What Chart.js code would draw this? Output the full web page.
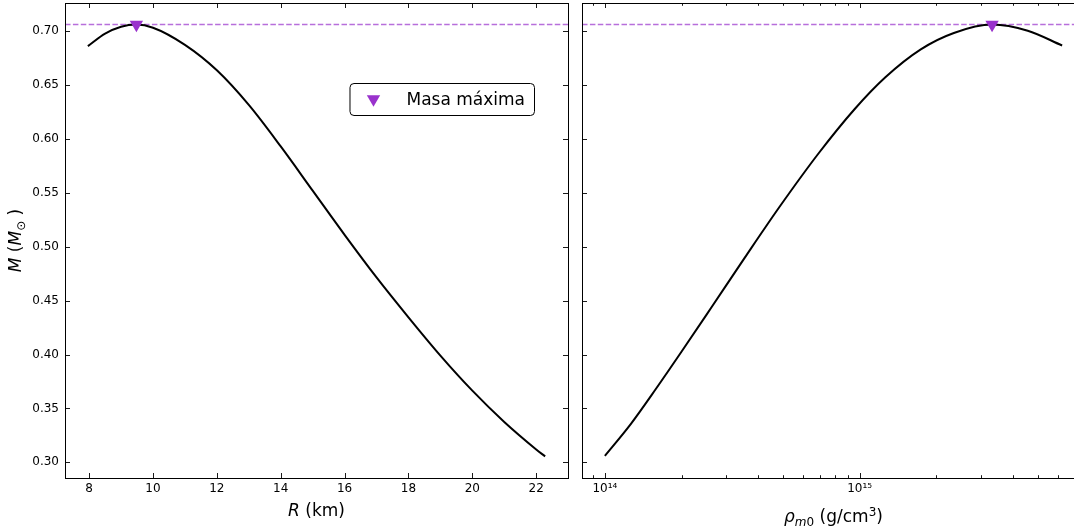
<!DOCTYPE html>
<html lang="es">
<head>
  <meta charset="UTF-8">
  <title>Masa vs radio y densidad central</title>
  <script src="https://cdn.jsdelivr.net/npm/chart.js"></script>
  <style>
    html, body { margin: 0; padding: 0; background: #fff; overflow: hidden; }
    #figure { position: relative; width: 1074px; height: 531px; overflow: hidden; }
    .panel { position: absolute; top: 0; height: 531px; }
    #leftPanel { left: 0; width: 575px; }
    #rightPanel { left: 575px; width: 525px; }
  </style>
</head>
<body>
  <div id="figure">
    <div class="panel" id="leftPanel"><canvas id="radiusChart"></canvas></div>
    <div class="panel" id="rightPanel"><canvas id="densityChart"></canvas></div>
  </div>

  <script>
    // left panel: M vs R
    const radiusKm = [7.96, 8.5, 9.0, 9.48, 10, 11, 12, 13, 14, 15, 16, 17, 18, 19, 20, 21, 22, 22.28];
    const massByRadius = [0.686, 0.6976, 0.704, 0.706, 0.7031, 0.6872, 0.6636, 0.6315, 0.593, 0.552, 0.511, 0.4715, 0.4345, 0.399, 0.3665, 0.3375, 0.312, 0.3055];

    // right panel: M vs central density (g/cm^3)
    const densityRho = [1.0e14, 1.259e14, 1.585e14, 1.995e14, 2.630e14, 3.548e14, 4.898e14, 6.918e14, 9.550e14, 1.259e15, 1.738e15, 2.344e15, 3.311e15, 4.571e15, 6.237e15];
    const massByDensity = [0.306, 0.335, 0.368, 0.4023, 0.4443, 0.4901, 0.5384, 0.5869, 0.6275, 0.6569, 0.6830, 0.6982, 0.706, 0.7003, 0.6866];

    const radiusTicks = [8, 10, 12, 14, 16, 18, 20, 22];
    const massTicks = [0.30, 0.35, 0.40, 0.45, 0.50, 0.55, 0.60, 0.65, 0.70];
    const densityDecades = [1e14, 1e15];
    const legendLabel = "Masa máxima";

    const FONT = "'DejaVu Sans', sans-serif";
    const PURPLE = "#9932cc";
    Chart.defaults.font.family = FONT;
    Chart.defaults.color = "#000";

    // matplotlib-like 5% margins
    function padRange(vals, log) {
      const v = log ? vals.map(Math.log10) : vals;
      const lo = Math.min(...v), hi = Math.max(...v), m = (hi - lo) * 0.05;
      return log ? [Math.pow(10, lo - m), Math.pow(10, hi + m)] : [lo - m, hi + m];
    }
    const [rMin, rMax] = padRange(radiusKm);
    const [mMin, mMax] = padRange(massByRadius.concat(massByDensity));
    const [dMin, dMax] = padRange(densityRho, true);

    const peakR = massByRadius.indexOf(Math.max(...massByRadius));
    const peakD = massByDensity.indexOf(Math.max(...massByDensity));
    const peakMass = Math.max(...massByRadius, ...massByDensity);

    const SUP = "⁰¹²³⁴⁵⁶⁷⁸⁹";
    const sup = n => String(n).split("").map(c => SUP[+c]).join("");
    const isDecade = v => Math.abs(Math.log10(v) - Math.round(Math.log10(v))) < 1e-9;

    const fixBox = size => s => {
      if (s.isHorizontal()) s.height = size; else s.width = size;
      s.paddingTop = s.paddingBottom = s.paddingLeft = s.paddingRight = 0;
    };

    function fontFor(p, size) {
      const sz = (p.sub || p.sup) ? Math.round(size * 0.7) : size;
      return (p.it ? "italic " : "") + sz + "px " + FONT;
    }

    function drawRich(ctx, parts, cx, cy, size, rotate) {
      ctx.save();
      ctx.translate(cx, cy);
      if (rotate) ctx.rotate(-Math.PI / 2);
      const widths = parts.map(p => { ctx.font = fontFor(p, size); return ctx.measureText(p.t).width; });
      let x = -widths.reduce((a, b) => a + b, 0) / 2;
      ctx.fillStyle = "#000";
      ctx.textBaseline = "alphabetic";
      ctx.textAlign = "left";
      parts.forEach((p, i) => {
        ctx.font = fontFor(p, size);
        const dy = p.sub ? size * 0.22 : p.sup ? -size * 0.38 : 0;
        ctx.fillText(p.t, x, size * 0.36 + dy);
        x += widths[i];
      });
      ctx.restore();
    }

    function tri(ctx, x, y, r) {
      ctx.beginPath();
      ctx.moveTo(x, y + r);
      ctx.lineTo(x - r * Math.sqrt(3) / 2, y - r / 2);
      ctx.lineTo(x + r * Math.sqrt(3) / 2, y - r / 2);
      ctx.closePath();
      ctx.fill();
    }

    const axesFrame = {
      id: "axesFrame",
      beforeDatasetsDraw(chart) {
        const { ctx, chartArea: a, scales: { y } } = chart;
        const yp = y.getPixelForValue(peakMass);
        ctx.save();
        ctx.strokeStyle = "rgba(153, 50, 204, 0.7)";
        ctx.lineWidth = 1.5;
        ctx.setLineDash([5.5, 2.4]);
        ctx.beginPath();
        ctx.moveTo(a.left, yp);
        ctx.lineTo(a.right, yp);
        ctx.stroke();
        ctx.restore();
      },
      afterDraw(chart, args, opts) {
        const { ctx, chartArea: a, scales: { x, y } } = chart;
        ctx.save();
        ctx.strokeStyle = "#000";
        ctx.lineWidth = 1;
        ctx.strokeRect(Math.round(a.left) + 0.5, Math.round(a.top) + 0.5, Math.round(a.right - a.left), Math.round(a.bottom - a.top));

        // inward ticks on all four sides
        ctx.lineWidth = 0.9;
        ctx.beginPath();
        x.ticks.forEach(t => {
          const px = Math.round(x.getPixelForValue(t.value)) + 0.5;
          const len = t.major ? 5 : 2.8;
          ctx.moveTo(px, a.bottom); ctx.lineTo(px, a.bottom - len);
          ctx.moveTo(px, a.top); ctx.lineTo(px, a.top + len);
        });
        y.ticks.forEach(t => {
          const py = Math.round(y.getPixelForValue(t.value)) + 0.5;
          ctx.moveTo(a.left, py); ctx.lineTo(a.left + 5, py);
          ctx.moveTo(a.right, py); ctx.lineTo(a.right - 5, py);
        });
        ctx.stroke();

        const cx = (a.left + a.right) / 2;
        if (opts.xTitle) drawRich(ctx, opts.xTitle, cx, opts.xTitleY, 17, false);
        if (opts.yTitle) drawRich(ctx, opts.yTitle, 15, (a.top + a.bottom) / 2, 17, true);

        if (opts.legend) {
          ctx.font = "17px " + FONT;
          const tw = ctx.measureText(legendLabel).width;
          const right = a.right - 34, top = a.top + 80.5, h = 32;
          const left = right - (tw + 57 + 9);
          ctx.beginPath();
          if (ctx.roundRect) ctx.roundRect(left + 0.5, top, right - left, h, 4);
          else ctx.rect(left + 0.5, top, right - left, h);
          ctx.fillStyle = "#fff";
          ctx.fill();
          ctx.strokeStyle = "#000";
          ctx.lineWidth = 1;
          ctx.stroke();
          ctx.fillStyle = PURPLE;
          tri(ctx, left + 24, top + h / 2 - 0.5, 7.7);
          ctx.fillStyle = "#000";
          ctx.textBaseline = "middle";
          ctx.textAlign = "left";
          ctx.fillText(legendLabel, left + 57, top + h / 2 + 1);
        }
        ctx.restore();
      }
    };

    const tickFont = { size: 12 };
    const curveStyle = { borderColor: "#000", borderWidth: 2, pointRadius: 0, cubicInterpolationMode: "monotone", fill: false, order: 1 };
    const markerStyle = { showLine: false, pointStyle: "triangle", rotation: 180, pointRadius: 7.7, pointBackgroundColor: PURPLE, pointBorderColor: PURPLE, pointBorderWidth: 0, order: 0 };

    const yScale = (labels) => ({
      type: "linear", min: mMin, max: mMax,
      afterBuildTicks: s => { s.ticks = massTicks.map(v => ({ value: v, major: true })); },
      afterFit: fixBox(labels ? 65 : 7),
      ticks: { display: labels, padding: 6, font: tickFont, color: "#000", callback: v => v.toFixed(2) },
      grid: { display: false, drawTicks: false },
      border: { display: false }
    });

    new Chart(document.getElementById("radiusChart"), {
      type: "line",
      data: {
        datasets: [
          Object.assign({ label: "M(R)", data: radiusKm.map((r, i) => ({ x: r, y: massByRadius[i] })) }, curveStyle),
          Object.assign({ label: legendLabel, data: [{ x: radiusKm[peakR], y: massByRadius[peakR] }] }, markerStyle)
        ]
      },
      options: {
        responsive: true, maintainAspectRatio: false, animation: false,
        layout: { autoPadding: false, padding: { top: 3, right: 7, left: 0, bottom: 0 } },
        plugins: {
          legend: { display: false }, tooltip: { enabled: false },
          axesFrame: {
            legend: true,
            xTitle: [{ t: "R", it: true }, { t: " (km)" }], xTitleY: 510,
            yTitle: [{ t: "M", it: true }, { t: " (" }, { t: "M", it: true }, { t: "⊙", sub: true }, { t: " )" }]
          }
        },
        scales: {
          x: {
            type: "linear", min: rMin, max: rMax,
            afterBuildTicks: s => { s.ticks = radiusTicks.map(v => ({ value: v, major: true })); },
            afterFit: fixBox(53),
            ticks: { autoSkip: false, maxRotation: 0, padding: 4, font: tickFont, color: "#000", callback: v => String(v) },
            grid: { display: false, drawTicks: false },
            border: { display: false }
          },
          y: yScale(true)
        }
      },
      plugins: [axesFrame]
    });

    new Chart(document.getElementById("densityChart"), {
      type: "line",
      data: {
        datasets: [
          Object.assign({ label: "M(rho)", data: densityRho.map((d, i) => ({ x: d, y: massByDensity[i] })) }, curveStyle),
          Object.assign({ label: legendLabel, data: [{ x: densityRho[peakD], y: massByDensity[peakD] }] }, markerStyle)
        ]
      },
      options: {
        responsive: true, maintainAspectRatio: false, animation: false,
        layout: { autoPadding: false, padding: { top: 3, right: 15, left: 0, bottom: 0 } },
        plugins: {
          legend: { display: false }, tooltip: { enabled: false },
          axesFrame: {
            legend: false,
            xTitle: [{ t: "ρ", it: true }, { t: "m", it: true, sub: true }, { t: "0", sub: true }, { t: " (g/cm" }, { t: "3", sup: true }, { t: ")" }],
            xTitleY: 516
          }
        },
        scales: {
          x: {
            type: "logarithmic", min: dMin, max: dMax,
            afterBuildTicks: s => {
              const ticks = [];
              for (let e = Math.floor(Math.log10(dMin)); e <= Math.floor(Math.log10(dMax)); e++) {
                for (let k = 1; k <= 9; k++) {
                  const v = k * Math.pow(10, e);
                  if (v >= dMin && v <= dMax) ticks.push({ value: v, major: k === 1 });
                }
              }
              s.ticks = ticks;
            },
            afterFit: fixBox(53),
            ticks: {
              autoSkip: false, maxRotation: 0, padding: 4, font: tickFont, color: "#000",
              callback: v => (isDecade(v) && densityDecades.some(d => Math.abs(d / v - 1) < 1e-9)) ? "10" + sup(Math.round(Math.log10(v))) : ""
            },
            grid: { display: false, drawTicks: false },
            border: { display: false }
          },
          y: yScale(false)
        }
      },
      plugins: [axesFrame]
    });
  </script>
</body>
</html>
